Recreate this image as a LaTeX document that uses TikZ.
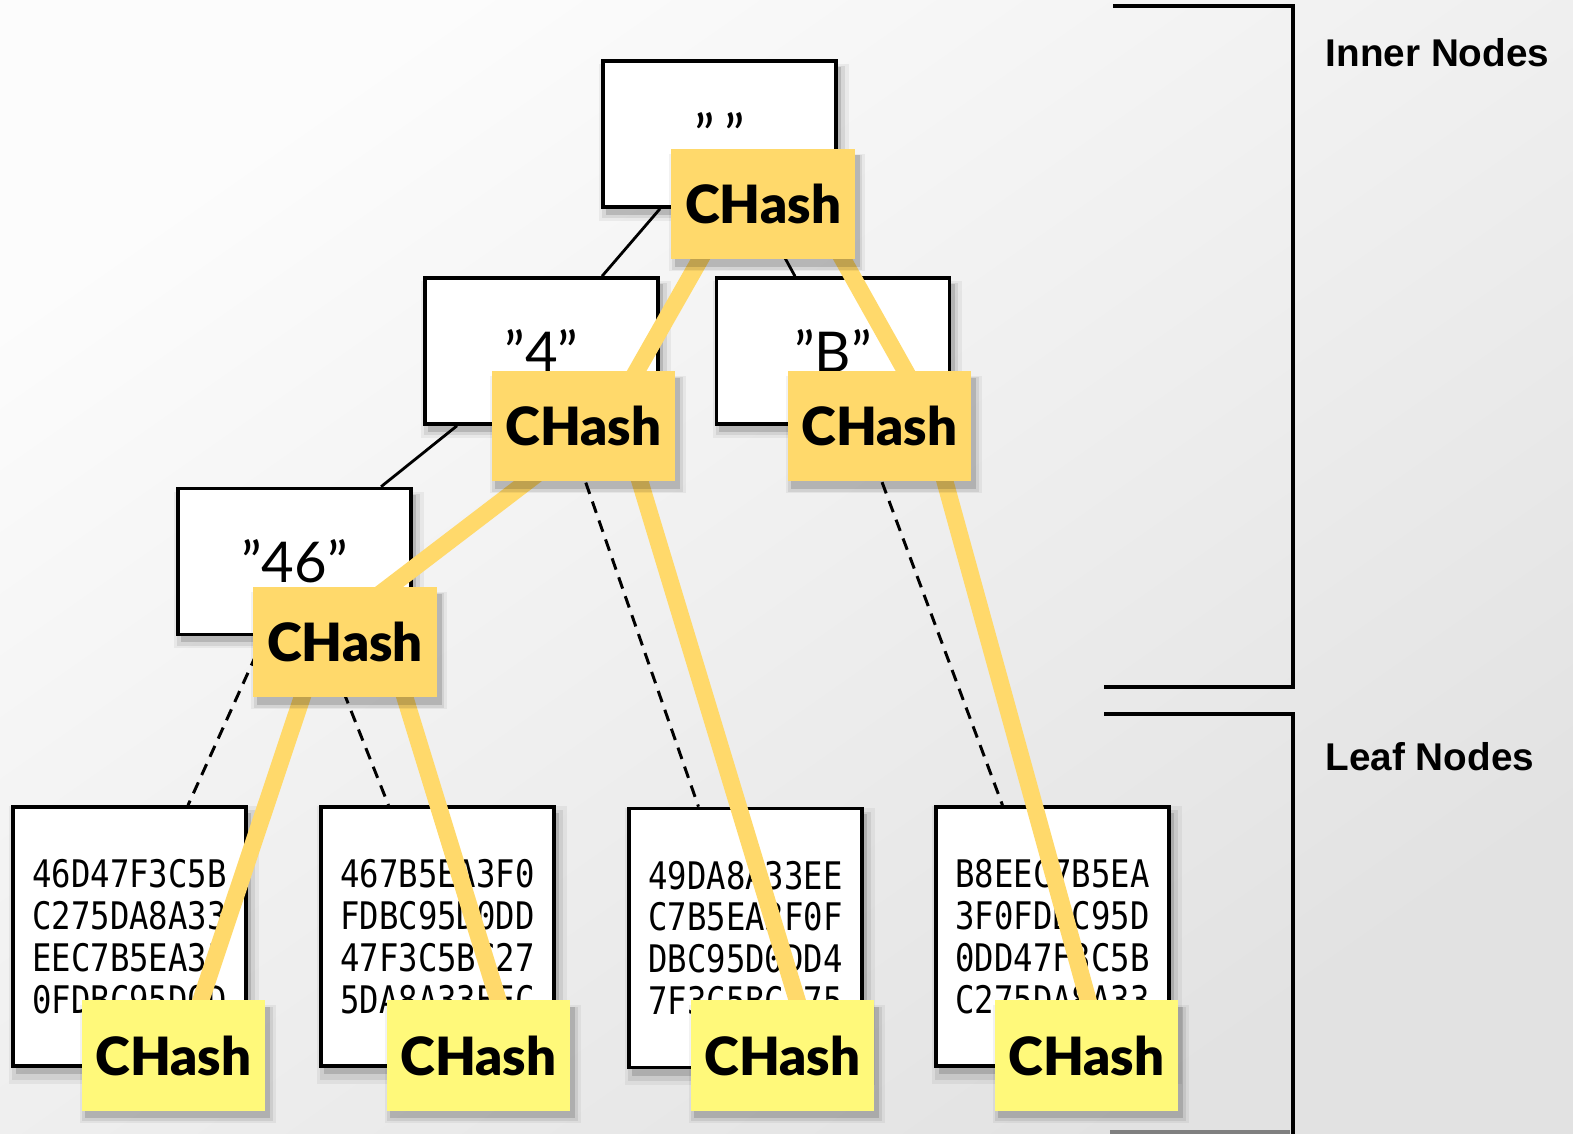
\documentclass[tikz,border=0pt]{standalone}
\usepackage{fontspec}
\setmainfont{Lato}
\newfontfamily\hashfont{Lato}[BoldFont={* Black}]
\newfontfamily\hexfont{DejaVu Sans Mono}[FakeStretch=0.85]
\newfontfamily\labelfont{Liberation Sans}
\usetikzlibrary{shadows}

\pgfdeclarelayer{bg}
\pgfdeclarelayer{edges}
\pgfdeclarelayer{links}
\pgfdeclarelayer{top}
\pgfsetlayers{bg,edges,main,links,top}

\definecolor{hashorange}{RGB}{255,217,107}
\definecolor{hashyellow}{RGB}{255,249,122}
\definecolor{bgtop}{RGB}{252,252,252}
\definecolor{bgmid}{RGB}{246,246,246}
\definecolor{bgbot}{RGB}{226,226,226}

\tikzset{
  boxshadow/.style={
    general shadow={shadow xshift=0.04cm, shadow yshift=-0.08cm,
      shadow scale=1.07, fill=black, opacity=0.05},
    general shadow={shadow xshift=0.04cm, shadow yshift=-0.08cm,
      shadow scale=1.04, fill=black, opacity=0.08},
    general shadow={shadow xshift=0.04cm, shadow yshift=-0.07cm,
      shadow scale=1.01, fill=black, opacity=0.14}},
  keybox/.style={draw=black, line width=1pt, fill=white, inner sep=0pt,
    minimum width=2.33cm, minimum height=1.46cm,
    font=\fontsize{16}{19}\selectfont, boxshadow},
  leafbox/.style={keybox, minimum height=2.59cm, align=left,
    font=\hexfont\fontsize{10.8}{11.9}\selectfont},
  hashbox/.style={fill=hashorange, inner sep=0pt,
    minimum width=1.83cm, minimum height=1.10cm,
    font=\hashfont\fontsize{15}{18}\selectfont\bfseries, boxshadow},
  leafhash/.style={hashbox, fill=hashyellow},
  treeedge/.style={line width=0.8pt},
  dashedge/.style={line width=0.85pt, dash pattern=on 3.4pt off 2.3pt},
  hashlink/.style={draw=hashorange, line width=0.17cm,
    shorten <=-0.15cm, shorten >=-0.15cm},
  bracket/.style={line width=0.9pt},
  seclabel/.style={anchor=west, inner sep=0pt,
    font=\labelfont\bfseries\fontsize{11}{13}\selectfont}
}

\begin{document}
\begin{tikzpicture}[x=0.01cm, y=-0.01cm]
    \useasboundingbox (0,0) rectangle (1573,1133);

    % Background
    \begin{pgfonlayer}{bg}
      \shade[top color=bgtop, middle color=bgmid, bottom color=bgbot,
        shading angle=35] (0,0) rectangle (1573,1133);
    \end{pgfonlayer}

    % Inner nodes
    \node[keybox] (root) at (719.5,134) {”\,”\vphantom{4}};
    \node[keybox] (n4) at (541.5,351) {”4”};
    \node[keybox] (nB) at (833,351) {”B”};
    \node[keybox] (n46) at (294.5,561.5) {”46”};

    % Leaf nodes
    \node[leafbox] (leafa) at (129.5,936.5) {46D47F3C5B\\C275DA8A33\\EEC7B5EA3F\\0FDBC95D0D};
    \node[leafbox] (leafb) at (437.5,936.5) {467B5EA3F0\\FDBC95D0DD\\47F3C5BC27\\5DA8A33EEC};
    \node[leafbox] (leafc) at (745.5,938) {49DA8A33EE\\C7B5EA3F0F\\DBC95D0DD4\\7F3C5BC275};
    \node[leafbox] (leafd) at (1052.5,936.5) {B8EEC7B5EA\\3F0FDBC95D\\0DD47F3C5B\\C275DA8A33};

    % Hash boxes
    \begin{pgfonlayer}{top}
      \node[hashbox] (hroot) at (763,204) {CHash};
      \node[hashbox] (h4) at (583.5,426) {CHash};
      \node[hashbox] (hB) at (879.5,426) {CHash};
      \node[hashbox] (h46) at (345,642) {CHash};
      \node[leafhash] (ha) at (173.5,1055.5) {CHash};
      \node[leafhash] (hb) at (478.5,1055.5) {CHash};
      \node[leafhash] (hc) at (782.5,1055.5) {CHash};
      \node[leafhash] (hd) at (1086.5,1055.5) {CHash};
    \end{pgfonlayer}

    % Tree edges
    \begin{pgfonlayer}{edges}
      \draw[treeedge] ([xshift=-0.595cm]root.south) -- ([xshift=0.605cm]n4.north);
      \draw[treeedge] ([xshift=0.385cm]root.south) -- ([xshift=-0.38cm]nB.north);
      \draw[treeedge] ([xshift=-0.845cm]n4.south) -- ([xshift=0.865cm]n46.north);
      \draw[dashedge] ([xshift=-0.30cm]n46.south) -- ([xshift=0.585cm]leafa.north);
      \draw[dashedge] ([xshift=0.27cm]n46.south) -- ([xshift=-0.49cm]leafb.north);
      \draw[dashedge] ([xshift=0.245cm]n4.south) -- ([xshift=-0.47cm]leafc.north);
      \draw[dashedge] ([xshift=0.28cm]nB.south) -- ([xshift=-0.50cm]leafd.north);
    \end{pgfonlayer}

    % Hash links
    \begin{pgfonlayer}{links}
      \draw[hashlink] ([xshift=-0.63cm]hroot.south) -- ([xshift=0.535cm]h4.north);
      \draw[hashlink] ([xshift=0.80cm]hroot.south) -- ([xshift=0.255cm]hB.north);
      \draw[hashlink] ([xshift=-0.565cm]h4.south) -- ([xshift=0.45cm]h46.north);
      \draw[hashlink] ([xshift=0.565cm]h4.south) -- ([xshift=0.145cm]hc.north);
      \draw[hashlink] ([xshift=0.655cm]hB.south) -- ([xshift=0.015cm]hd.north);
      \draw[hashlink] ([xshift=-0.43cm]h46.south) -- ([xshift=0.275cm]ha.north);
      \draw[hashlink] ([xshift=0.60cm]h46.south) -- ([xshift=0.195cm]hb.north);
    \end{pgfonlayer}

    % Brackets and section labels
    \draw[bracket] (1113,6) -- (1293,6) -- (1293,687) -- (1104,687);
    \draw[bracket] (1104,714) -- (1293,714) -- (1293,1140);
    \draw[bracket, gray] (1110,1132) -- (1290,1132);
    \node[seclabel] (inner) at (1325,53) {Inner Nodes};
    \node[seclabel] (leaves) at (1325,757) {Leaf Nodes};
  \end{tikzpicture}
\end{document}
